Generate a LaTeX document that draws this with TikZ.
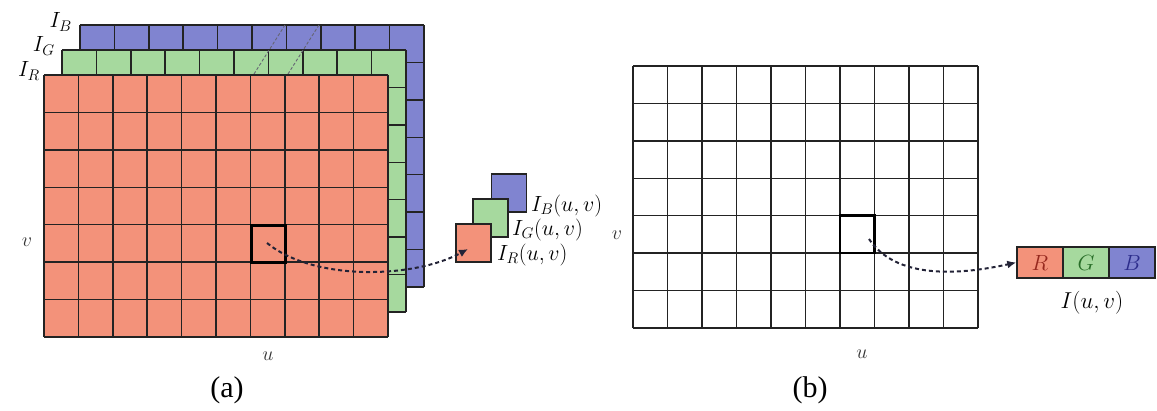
\RequirePackage{fix-cm}
\documentclass[tikz,border=0pt]{standalone}
\usepackage{fontspec}
\newfontfamily\capfont{Liberation Serif}
\usetikzlibrary{arrows.meta}
\definecolor{redfill}{RGB}{243,146,122}
\definecolor{greenfill}{RGB}{166,217,158}
\definecolor{bluefill}{RGB}{128,132,208}
\definecolor{gridcol}{RGB}{35,35,35}
\definecolor{redtxt}{RGB}{150,40,30}
\definecolor{greentxt}{RGB}{40,110,40}
\definecolor{bluetxt}{RGB}{45,45,140}
\definecolor{linkcol}{RGB}{35,35,55}
\newcommand\pixlayer[3]{%
  \fill[#3] (#1,#2) rectangle ++(344,262);
  \foreach \i in {0,...,10} \draw[gridline] ({#1+\i*34.4},#2) -- ++(0,262);
  \foreach \j in {0,...,7} \draw[gridline] (#1,{#2+\j*37.43}) -- ++(344,0);
}
\begin{document}
\begin{tikzpicture}[x=1pt,y=-1pt,
  gridline/.style={draw=gridcol,line width=1.5pt},
  lbl/.style={inner sep=0pt,font=\fontsize{22}{26}\selectfont},
  axislbl/.style={inner sep=0pt,font=\fontsize{20}{24}\selectfont,text=black!80},
  captext/.style={inner sep=0pt,font=\capfont\fontsize{30}{34}\selectfont},
  pix/.style={draw=gridcol,line width=1.5pt,minimum width=35pt,minimum height=38pt,inner sep=0pt},
  chan/.style={draw=gridcol,line width=1.5pt,minimum width=46pt,minimum height=31pt,inner sep=0pt,font=\fontsize{22}{26}\selectfont},
  link/.style={draw=linkcol,line width=2pt,dash pattern=on 4pt off 3pt,-{Latex[length=9pt,width=8pt]}},
  proj/.style={draw=linkcol!70,line width=0.9pt,dash pattern=on 3pt off 2pt}]
\useasboundingbox (0,0) rectangle (1157,411);
% (a) stacked channel layers
\pixlayer{80}{25}{bluefill}
\pixlayer{62}{50}{greenfill}
\draw[proj] (254,74) -- (285,25);
\draw[proj] (288,74) -- (319,25);
\pixlayer{44}{75}{redfill}
\node[lbl,anchor=east] (lb) at (72,22) {$I_B$};
\node[lbl,anchor=east] (lg) at (55,46) {$I_G$};
\node[lbl,anchor=east] (lr) at (40,71) {$I_R$};
\node[draw=black,line width=3.2pt,minimum width=34.4pt,minimum height=37.4pt,inner sep=0pt] (hl) at (268.4,243.9) {};
\coordinate (hlc) at (267,243);
% single pixel channels
\node[pix,fill=bluefill] (pb) at (509,193) {};
\node[pix,fill=greenfill] (pg) at (490.5,218) {};
\node[pix,fill=redfill] (pr) at (473.5,243) {};
\coordinate (prt) at (468,249);
\node[lbl,anchor=west] (tb) at (531,206) {$I_B(u,v)$};
\node[lbl,anchor=west] (tg) at (512,230) {$I_G(u,v)$};
\node[lbl,anchor=west] (tr) at (497,255) {$I_R(u,v)$};
\draw[link] (hlc) .. controls (315,282) and (415,278) .. (prt);
\node[axislbl] (va) at (27,242) {$v$};
\node[axislbl] (ua) at (268,356) {$u$};
\node[captext] (capa) at (227,390) {(a)};
% (b) single image
\foreach \i in {0,...,10} \draw[gridline] ({633+\i*34.5},66) -- ++(0,262);
\foreach \j in {0,...,7} \draw[gridline] (633,{66+\j*37.43}) -- ++(345,0);
\node[draw=black,line width=2.4pt,minimum width=34.5pt,minimum height=37.4pt,inner sep=0pt] (hr) at (857.3,234.4) {};
\coordinate (hrc) at (869,239);
\node[chan,fill=redfill,text=redtxt] (cr) at (1040,262.5) {$R$};
\node[chan,fill=greenfill,text=greentxt] (cg) at (1086,262.5) {$G$};
\node[chan,fill=bluefill,text=bluetxt] (cb) at (1132,262.5) {$B$};
\draw[link] (hrc) .. controls (895,278) and (955,276) .. (cr.west);
\node[lbl,font=\fontsize{23}{27}\selectfont] (iuv) at (1092,303) {$I(u,v)$};
\node[axislbl] (vb) at (617,235) {$v$};
\node[axislbl] (ub) at (862,354) {$u$};
\node[captext] (capb) at (810,390) {(b)};
\end{tikzpicture}
\end{document}
